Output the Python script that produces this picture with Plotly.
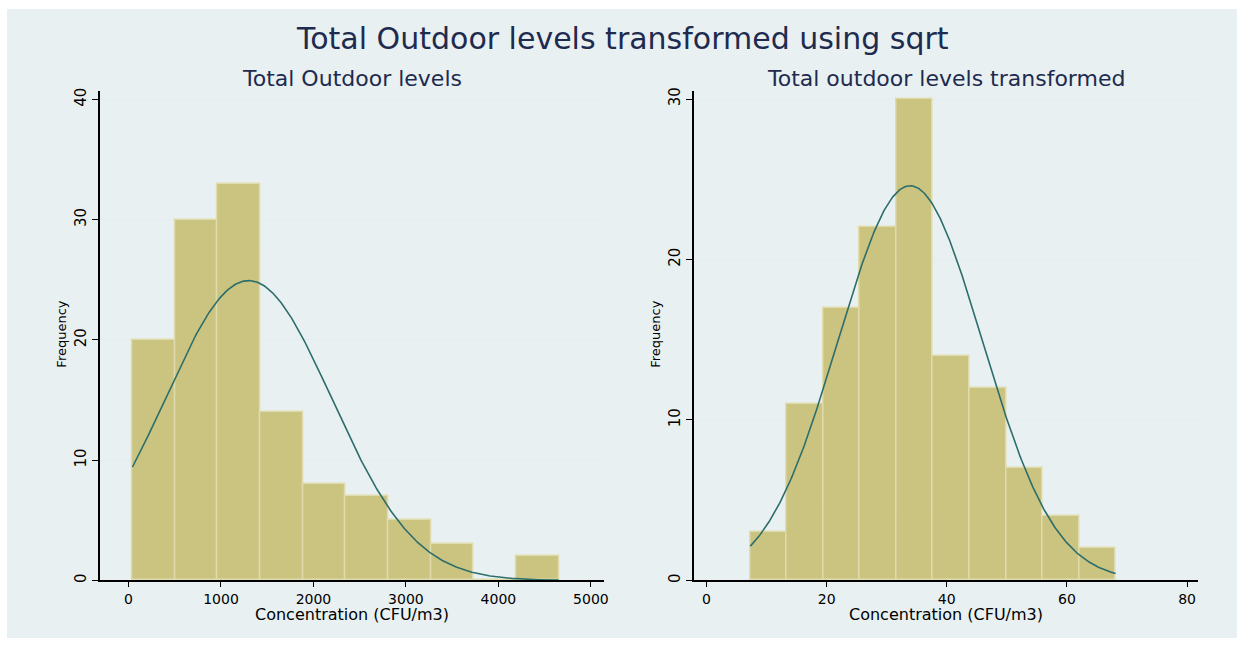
import numpy as np
import plotly.graph_objects as go

# ---- data -------------------------------------------------------------
# Raw outdoor concentration histogram (CFU/m3)
raw_bin_start = 43.0
raw_bin_width = 461.0
raw_counts = [20, 30, 33, 14, 8, 7, 5, 3, 0, 2]
raw_mean = 1298.0
raw_sd = 900.0

# Square-root transformed histogram
sqrt_bin_start = 7.3
sqrt_bin_width = 6.08
sqrt_counts = [3, 11, 17, 22, 30, 14, 12, 7, 4, 2]
sqrt_mean = 33.9
sqrt_sd = 12.03

left_xticks = [0, 1000, 2000, 3000, 4000, 5000]
left_yticks = [0, 10, 20, 30, 40]
right_xticks = [0, 20, 40, 60, 80]
right_yticks = [0, 10, 20, 30]

main_title = "Total Outdoor levels transformed using sqrt"
left_title = "Total Outdoor levels"
right_title = "Total outdoor levels transformed"
x_label = "Concentration (CFU/m3)"
y_label = "Frequency"

# ---- styling ----------------------------------------------------------
W, H = 1242, 646
BG = "#e8f0f2"
BAR = "#cbc380"
BAR_EDGE = "#e0dbac"
CURVE = "#2d6e6b"
TITLE_C = "#1e2b4e"
GRID = "#e3ecee"
FONT = "DejaVu Sans"


def px_x(p):
    return p / W


def px_y(p):
    return 1 - p / H


def hist_bars(start, width, counts):
    counts = np.asarray(counts, dtype=float)
    centers = start + width * (np.arange(len(counts)) + 0.5)
    return centers, counts


def normal_curve(start, width, counts, mean, sd):
    n = float(np.sum(counts))
    x = np.linspace(start, start + width * len(counts), 300)
    y = n * width / (sd * np.sqrt(2 * np.pi)) * np.exp(-0.5 * ((x - mean) / sd) ** 2)
    return x, y


fig = go.Figure()

# left panel
cx, cy = hist_bars(raw_bin_start, raw_bin_width, raw_counts)
fig.add_trace(go.Bar(x=cx, y=cy, width=raw_bin_width, marker=dict(color=BAR, line=dict(color=BAR_EDGE, width=1.5)),
                     xaxis="x", yaxis="y", showlegend=False))
lx, ly = normal_curve(raw_bin_start, raw_bin_width, raw_counts, raw_mean, raw_sd)
fig.add_trace(go.Scatter(x=lx, y=ly, mode="lines", line=dict(color=CURVE, width=1.6),
                         xaxis="x", yaxis="y", showlegend=False))

# right panel
cx2, cy2 = hist_bars(sqrt_bin_start, sqrt_bin_width, sqrt_counts)
fig.add_trace(go.Bar(x=cx2, y=cy2, width=sqrt_bin_width, marker=dict(color=BAR, line=dict(color=BAR_EDGE, width=1.5)),
                     xaxis="x2", yaxis="y2", showlegend=False))
rx, ry = normal_curve(sqrt_bin_start, sqrt_bin_width, sqrt_counts, sqrt_mean, sqrt_sd)
fig.add_trace(go.Scatter(x=rx, y=ry, mode="lines", line=dict(color=CURVE, width=1.6),
                         xaxis="x2", yaxis="y2", showlegend=False))

ydom = [px_y(582.7), px_y(88)]
left_dom = [px_x(100.7), px_x(606)]
right_dom = [px_x(697.3), px_x(1202.7)]

xaxis_common = dict(showgrid=False, zeroline=False, showline=True, linecolor="black", linewidth=1.5,
                    ticks="outside", ticklen=5, tickwidth=1, tickcolor="black",
                    tickfont=dict(family=FONT, size=14, color="black"))
yaxis_common = dict(showgrid=True, gridcolor=GRID, gridwidth=1, zeroline=False, showline=True,
                    linecolor="black", linewidth=1.5, ticks="outside", ticklen=7, tickwidth=1,
                    tickcolor="black", tickangle=-90, tickfont=dict(family=FONT, size=15, color="black"))

fig.update_layout(
    width=W, height=H,
    margin=dict(l=0, r=0, t=0, b=0),
    paper_bgcolor="white",
    plot_bgcolor="white",
    bargap=0,
    xaxis=dict(domain=left_dom, range=[-305, 5137], tickvals=left_xticks, anchor="y", **xaxis_common),
    yaxis=dict(domain=ydom, range=[0, 40.7], tickvals=left_yticks, anchor="x", **yaxis_common),
    xaxis2=dict(domain=right_dom, range=[-2.0, 81.8], tickvals=right_xticks, anchor="y2", **xaxis_common),
    yaxis2=dict(domain=ydom, range=[0, 30.5], tickvals=right_yticks, anchor="x2", **yaxis_common),
    shapes=[dict(type="rect", xref="paper", yref="paper", x0=px_x(7), x1=1, y0=px_y(641), y1=px_y(5),
                 fillcolor=BG, line=dict(width=0), layer="below")],
)

annotations = [
    dict(text=main_title, x=px_x(625), y=px_y(35), font=dict(family=FONT, size=30, color=TITLE_C)),
    dict(text=left_title, x=px_x(353), y=px_y(75), font=dict(family=FONT, size=22, color=TITLE_C)),
    dict(text=right_title, x=px_x(950), y=px_y(75), font=dict(family=FONT, size=22, color=TITLE_C)),
    dict(text=x_label, x=px_x(353), y=px_y(617), font=dict(family=FONT, size=16, color="black")),
    dict(text=x_label, x=px_x(950), y=px_y(617), font=dict(family=FONT, size=16, color="black")),
    dict(text=y_label, x=px_x(61.5), y=px_y(334), textangle=-90, font=dict(family=FONT, size=13, color="black")),
    dict(text=y_label, x=px_x(658), y=px_y(334), textangle=-90, font=dict(family=FONT, size=13, color="black")),
]
for a in annotations:
    a.update(xref="paper", yref="paper", xanchor="center", yanchor="middle", showarrow=False)
fig.update_layout(annotations=annotations)

fig.write_html("out.html")
